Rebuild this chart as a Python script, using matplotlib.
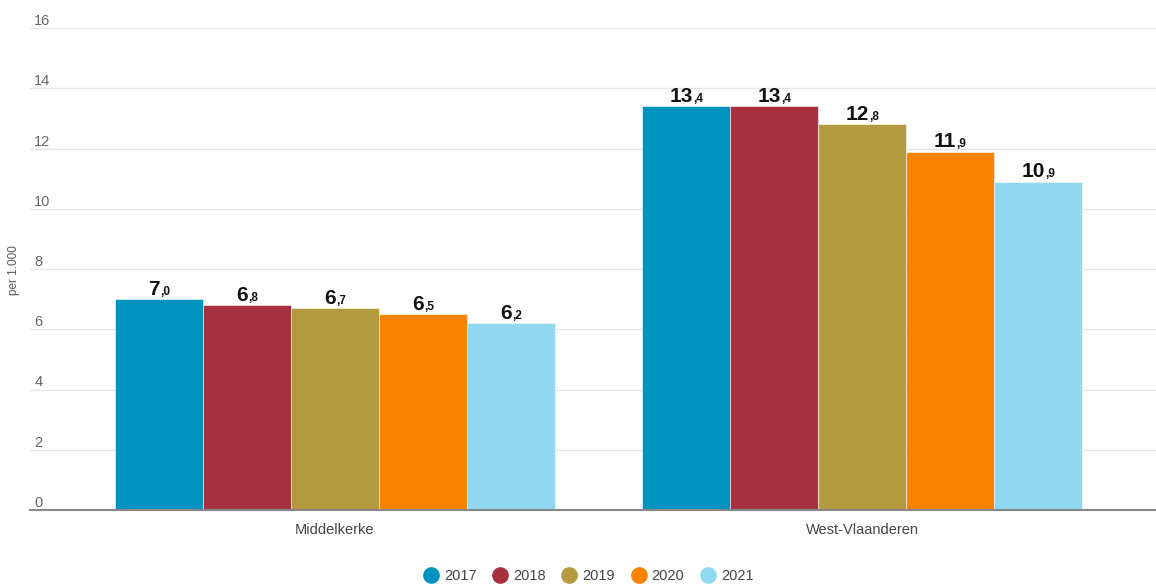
import numpy as np
import matplotlib.pyplot as plt

plt.rcParams['font.family'] = ['Liberation Sans', 'DejaVu Sans']

regios = ['Middelkerke', 'West-Vlaanderen']
jaren = ['2017', '2018', '2019', '2020', '2021']
waarden = {
    '2017': [7.0, 13.4],
    '2018': [6.8, 13.4],
    '2019': [6.7, 12.8],
    '2020': [6.5, 11.9],
    '2021': [6.2, 10.9],
}
kleuren = ['#0093c0', '#a8303f', '#b39a3f', '#f98200', '#8fd8f0']

fig = plt.figure(figsize=(11.56, 5.84), dpi=100)
ax = fig.add_axes([30 / 1156, 1 - 510 / 584, 1 - 30 / 1156, (510 - 28) / 584])

x = np.arange(len(regios))
w = 0.167
labels = []
for i, jaar in enumerate(jaren):
    pos = x + (i - 2) * w
    ax.bar(pos, waarden[jaar], w, color=kleuren[i], edgecolor='white',
           linewidth=0.4, label=jaar, zorder=3)
    for px, v in zip(pos, waarden[jaar]):
        heel, dec = f'{v:.1f}'.split('.')
        t1 = ax.annotate(heel, (px, v), xytext=(0, 3), textcoords='offset points',
                         ha='right', va='baseline', fontsize=15, fontweight='bold',
                         color='#111111', zorder=4)
        t2 = ax.annotate(',' + dec, (px, v), xytext=(0, 3), textcoords='offset points',
                         ha='left', va='baseline', fontsize=8.5, fontweight='bold',
                         color='#111111', zorder=4)
        labels.append((t1, t2))

ax.set_xlim((30 - 335) / 527, (1156 - 335) / 527)
ax.set_ylim(0, 16)
ax.set_yticks(range(0, 17, 2))
ax.yaxis.grid(True, color='#e6e6e6', linewidth=1, zorder=0)
ax.tick_params(axis='y', length=0, labelsize=10.5, labelcolor='#666666', pad=-3)
for lab in ax.get_yticklabels():
    lab.set_horizontalalignment('left')
    lab.set_verticalalignment('bottom')
ax.set_xticks(x)
ax.set_xticklabels(regios)
ax.tick_params(axis='x', length=0, labelsize=10.5, labelcolor='#444444', pad=9)

for s in ['top', 'right', 'left']:
    ax.spines[s].set_visible(False)
ax.spines['bottom'].set_color('#888888')
ax.spines['bottom'].set_linewidth(1.5)
ax.spines['bottom'].set_zorder(5)

fig.text(14 / 1156, 1 - 270 / 584, 'per 1.000', rotation=90, ha='center', va='center',
         fontsize=8.5, color='#555555')

handles = [plt.Line2D([], [], marker='o', linestyle='', markersize=11, color=c) for c in kleuren]
fig.legend(handles, jaren, loc='center', bbox_to_anchor=(588 / 1156, 1 - 576 / 584),
           ncol=5, frameon=False, fontsize=10.5, labelcolor='#444444',
           handletextpad=0.3, columnspacing=1.0, handlelength=1.2)

# centreer de twee delen van elk label samen boven de staaf
fig.canvas.draw()
r = fig.canvas.get_renderer()
for t1, t2 in labels:
    w1 = t1.get_window_extent(r).width
    w2 = t2.get_window_extent(r).width
    dx = (w1 - w2) / 2 * 72 / fig.dpi
    t1.set_position((dx, 3))
    t2.set_position((dx, 3))

fig.savefig('out.png', dpi=100)
